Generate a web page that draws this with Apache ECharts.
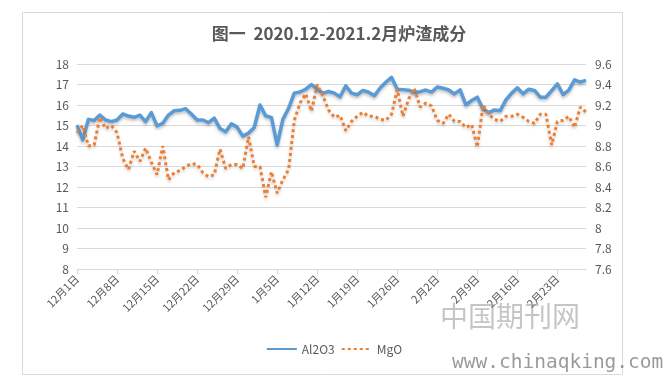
<!DOCTYPE html>
<html><head><meta charset="utf-8">
<script src="https://cdn.jsdelivr.net/npm/echarts@6/dist/echarts.min.js"></script>
<style>html,body{margin:0;padding:0;background:#fff}#c{width:668px;height:380px}</style>
</head><body><div id="c"></div>
<script>
var titleText = '图一  2020.12-2021.2月炉渣成分';
var months = [['12月', 31], ['1月', 31], ['2月', 28]];
var seriesNames = ['Al2O3', 'MgO'];
var al2o3 = [15.02,14.3,15.3,15.24,15.51,15.27,15.19,15.27,15.56,15.46,
15.4,15.51,15.19,15.63,14.98,15.11,15.51,15.72,15.74,15.82,
15.56,15.27,15.27,15.14,15.36,14.86,14.69,15.08,14.92,14.48,
14.63,14.9,16.0,15.47,15.39,14.06,15.3,15.84,16.58,16.64,
16.77,17.0,16.77,16.58,16.66,16.58,16.4,16.93,16.58,16.5,
16.71,16.62,16.45,16.83,17.11,17.35,16.77,16.75,16.72,16.61,
16.65,16.73,16.63,16.88,16.82,16.73,16.54,16.74,16.01,16.22,
16.38,15.8,15.63,15.76,15.72,16.25,16.58,16.84,16.54,16.77,
16.71,16.38,16.38,16.7,17.03,16.51,16.73,17.23,17.12,17.2];
var mgo = [8.93,9.0,8.8,8.81,9.08,8.97,9.0,8.93,8.68,8.57,
8.75,8.65,8.78,8.64,8.52,8.8,8.47,8.54,8.56,8.6,
8.63,8.62,8.54,8.5,8.52,8.77,8.58,8.62,8.62,8.58,
8.89,8.6,8.6,8.3,8.55,8.34,8.47,8.57,9.05,9.22,
9.31,9.14,9.4,9.29,9.15,9.08,9.1,8.95,9.04,9.09,
9.13,9.09,9.09,9.06,9.05,9.11,9.35,9.09,9.26,9.36,
9.18,9.22,9.19,9.05,9.02,9.11,9.04,9.04,8.98,9.01,
8.79,9.2,9.11,9.06,9.04,9.09,9.09,9.11,9.08,9.04,
9.02,9.11,9.11,8.81,9.04,9.05,9.09,8.98,9.18,9.13];

var categories = [];
months.forEach(function (m) {
  for (var d = 1; d <= m[1]; d++) categories.push(m[0] + d + '日');
});

var font = '"Noto Sans CJK SC", "Noto Sans", sans-serif';
var txt = '#595959';
var chart = echarts.init(document.getElementById('c'), null, {renderer: 'canvas'});
chart.setOption({
  animation: false,
  textStyle: {fontFamily: font},
  title: {
    text: titleText, left: 334, textAlign: 'center', top: 20,
    textStyle: {fontSize: 17, fontWeight: 'bold', color: txt, fontFamily: font}
  },
  graphic: [
    {type: 'rect', shape: {x: 22.5, y: 12.5, width: 600, height: 362}, style: {fill: 'none', stroke: '#d9d9d9', lineWidth: 1}, z: -1},
    {type: 'text', left: 440, top: 302, style: {text: '中国期刊网', font: '28px "Noto Sans CJK SC"', fill: 'rgba(150,150,150,0.55)'}, z: 100},
    {type: 'text', left: 452, top: 353, style: {text: 'www.chinaqking.com', font: '19.5px "DejaVu Sans Mono"', fill: 'rgba(120,120,120,0.75)'}, z: 100}
  ],
  legend: {
    data: seriesNames, bottom: 20, left: 'center', itemWidth: 30, itemHeight: 10, itemGap: 6,
    itemStyle: {opacity: 0},
    textStyle: {fontSize: 12, color: txt, fontFamily: font}
  },
  grid: {left: 77, right: 82, top: 64, bottom: 111},
  xAxis: {
    type: 'category', data: categories, boundaryGap: false,
    axisLine: {lineStyle: {color: '#d9d9d9'}},
    axisTick: {show: true, interval: 6, length: 5, lineStyle: {color: '#d9d9d9'}},
    axisLabel: {interval: 6, rotate: 45, fontSize: 11, color: txt, margin: 8, fontFamily: font}
  },
  yAxis: [{
    type: 'value', min: 8, max: 18, interval: 1, position: 'left',
    axisLine: {show: false}, axisTick: {show: false},
    axisLabel: {fontSize: 12, color: txt, margin: 8, fontFamily: font},
    splitLine: {lineStyle: {color: '#d9d9d9'}}
  }, {
    type: 'value', min: 7.6, max: 9.6, interval: 0.2, position: 'right',
    axisLine: {show: false}, axisTick: {show: false},
    axisLabel: {fontSize: 12, color: txt, margin: 9, fontFamily: font,
      formatter: function (v) { return String(+v.toFixed(1)); }},
    splitLine: {show: false}
  }],
  series: [{
    name: seriesNames[0], type: 'line', yAxisIndex: 0, data: al2o3,
    symbol: 'none', smooth: false, z: 2,
    lineStyle: {color: '#5B9BD5', width: 3.5, join: 'round',
      shadowColor: 'rgba(0,0,0,0.25)', shadowBlur: 3, shadowOffsetY: 2},
    itemStyle: {color: '#5B9BD5'}
  }, {
    name: seriesNames[1], type: 'line', yAxisIndex: 1, data: mgo,
    symbol: 'none', smooth: false, z: 3,
    lineStyle: {color: '#ED7D31', width: 3, type: [3, 3], cap: 'butt',
      shadowColor: 'rgba(0,0,0,0.2)', shadowBlur: 3, shadowOffsetY: 2},
    itemStyle: {color: '#ED7D31'}
  }]
});
</script></body></html>
